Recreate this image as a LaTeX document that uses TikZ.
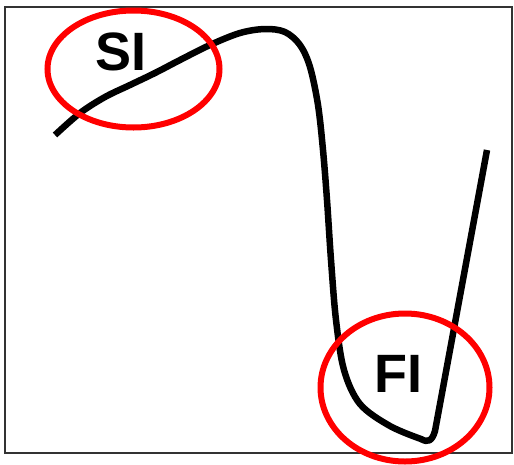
\documentclass[tikz,border=0pt]{standalone}
\usepackage{fontspec}
\setmainfont{Liberation Sans}
\usetikzlibrary{shapes.geometric}
\begin{document}
\begin{tikzpicture}[x=1pt,y=-1pt,
  ring/.style={draw=red, line width=6pt, ellipse, inner sep=0pt},
  lbl/.style={font=\fontsize{54}{54}\selectfont\bfseries, inner sep=0pt},
  curve/.style={line width=6.5pt, line join=round, line cap=butt}]
\useasboundingbox (0,0) rectangle (514,464);
\fill[white] (0,0) rectangle (514,464);
\draw[line width=1.3pt, black!80] (5,7) rectangle (512,453);
\draw[curve] plot[smooth, tension=0.55] coordinates {(55,135) (80,113) (105,97) (130,85) (155,73) (180,60) (210,45) (240,33) (265,29) (285,32) (300,45) (310,67) (318,105) (323,150) (327,200) (331,260) (336,320) (344,370) (360,404) (390,426) (421,439)} .. controls (428,443) and (432,441) .. (435,431) -- (487,150);
\node[ring, minimum width=172pt, minimum height=117pt] (si) at (133.5,69) {};
\node[ring, minimum width=169pt, minimum height=148pt] (fi) at (405,387.5) {};
\node[lbl] (silbl) at (121,52) {SI};
\node[lbl] (filbl) at (398,374) {FI};
\end{tikzpicture}
\end{document}
